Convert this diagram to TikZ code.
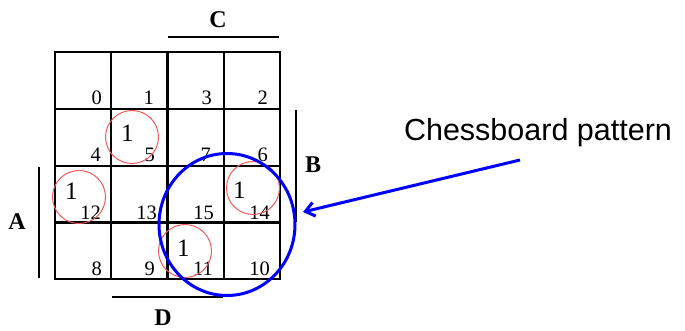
\documentclass[tikz,border=0pt]{standalone}
\usepackage{fontspec}
\setmainfont{Liberation Serif}
\newfontfamily\arialf{Liberation Sans}
\usetikzlibrary{arrows.meta}
\definecolor{ringred}{RGB}{240,90,90}
\definecolor{ringblue}{RGB}{0,0,255}
\tikzset{
  gridline/.style={line width=2.4pt, line cap=rect},
  varbar/.style={line width=2pt},
  varlab/.style={font=\fontsize{24}{26}\selectfont\bfseries, inner sep=0pt},
  cellnum/.style={font=\fontsize{20.5}{22}\selectfont, inner sep=0pt, anchor=base east},
  onemark/.style={font=\fontsize{25}{27}\selectfont, inner sep=0pt, anchor=base west},
  redring/.style={draw=ringred, line width=1pt},
  bluering/.style={draw=ringblue, line width=3pt},
  callout/.style={font=\arialf\fontsize{30.5}{33}\selectfont, inner sep=0pt}
}
\begin{document}
\begin{tikzpicture}[x=1pt,y=-1pt]
\useasboundingbox (0,0) rectangle (685,331);
% grid
\draw[gridline] (55,52) rectangle (280,279);
\foreach \xx in {111.25,167.5,223.75} \draw[gridline] (\xx,52) -- (\xx,279);
\foreach \yy in {109,166,222.5} \draw[gridline] (55,\yy) -- (280,\yy);
% variable bars and labels
\coordinate (c1) at (168,37); \coordinate (c2) at (279,37);
\draw[varbar] (c1) -- (c2);
\node[varlab] (labC) at (218,20) {C};
\coordinate (b1) at (296,110); \coordinate (b2) at (296,222);
\draw[varbar] (b1) -- (b2);
\node[varlab] (labB) at (313,165) {B};
\coordinate (a1) at (39,167); \coordinate (a2) at (39,278);
\draw[varbar] (a1) -- (a2);
\node[varlab] (labA) at (17,222) {A};
\coordinate (d1) at (112,297); \coordinate (d2) at (223,297);
\draw[varbar] (d1) -- (d2);
\node[varlab] (labD) at (163,318) {D};
% cell numbers
\node[cellnum] (n0) at (102,105) {0};
\node[cellnum] (n1) at (154,105) {1};
\node[cellnum] (n3) at (212,105) {3};
\node[cellnum] (n2) at (268,105) {2};
\node[cellnum] (n4) at (101,162) {4};
\node[cellnum] (n5) at (155,162) {5};
\node[cellnum] (n7) at (211,162) {7};
\node[cellnum] (n6) at (268,162) {6};
\node[cellnum] (n12) at (101,219) {12};
\node[cellnum] (n13) at (157,219) {13};
\node[cellnum] (n15) at (214,219) {15};
\node[cellnum] (n14) at (270,219) {14};
\node[cellnum] (n8) at (102,275) {8};
\node[cellnum] (n9) at (155,275) {9};
\node[cellnum] (n11) at (213,275) {11};
\node[cellnum] (n10) at (270,275) {10};
% ones
\node[onemark] (o5) at (121,142) {1};
\node[onemark] (o12) at (65,200) {1};
\node[onemark] (o14) at (233,199) {1};
\node[onemark] (o11) at (177,256) {1};
% red rings
\draw[redring] (132,137) circle[radius=26.5pt];
\draw[redring] (79,197) circle[radius=26.5pt];
\draw[redring] (253,188) circle[radius=26.5pt];
\draw[redring] (185,251) circle[radius=26.5pt];
% blue ring
\coordinate (grp) at (227,224.5);
\draw[bluering] (grp) ellipse[x radius=68pt, y radius=71pt];
% callout
\node[callout] (txt) at (538,133) {Chessboard pattern};
\coordinate (arrS) at (520,160);
\coordinate (arrE) at (303,212);
\draw[ringblue, line width=3pt, -{Straight Barb[length=9pt,width=14pt]}] (arrS) -- (arrE);
\end{tikzpicture}
\end{document}
